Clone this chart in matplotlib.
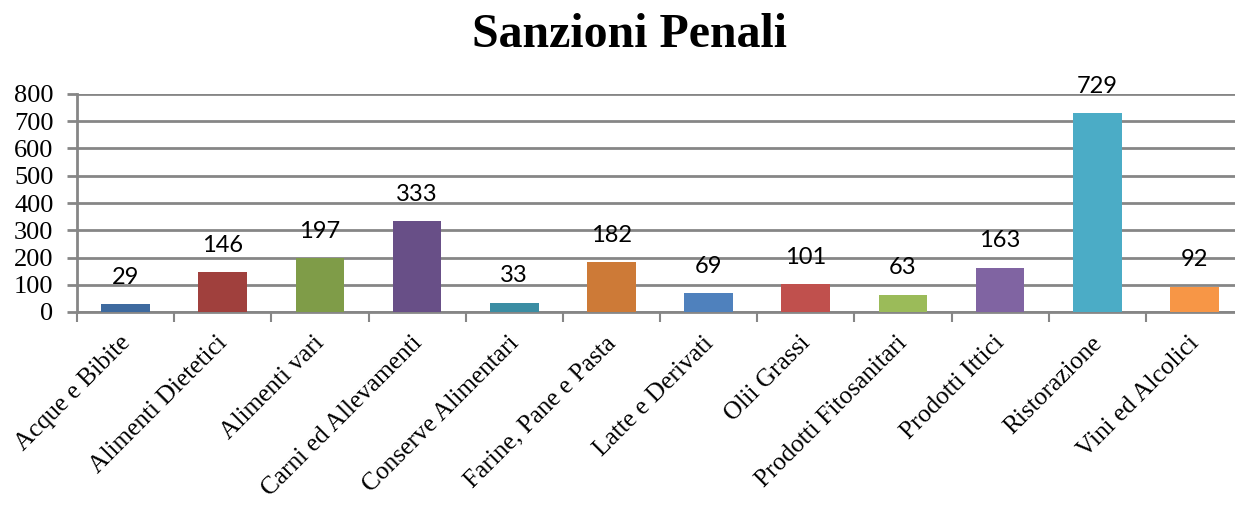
import numpy as np
import matplotlib
matplotlib.use('Agg')
import matplotlib.pyplot as plt

# Dati
categorie = ['Acque e Bibite', 'Alimenti Dietetici', 'Alimenti vari',
             'Carni ed Allevamenti', 'Conserve Alimentari',
             'Farine, Pane e Pasta', 'Latte e Derivati', 'Olii Grassi',
             'Prodotti Fitosanitari', 'Prodotti Ittici', 'Ristorazione',
             'Vini ed Alcolici']
valori = [29, 146, 197, 333, 33, 182, 69, 101, 63, 163, 729, 92]
colori = ['#3E6A9F', '#A0403D', '#7F9C48', '#684F87', '#3B8DA3', '#CD7A37',
          '#4F81BD', '#C0504D', '#9BBB59', '#8064A2', '#4BACC6', '#F79646']
tick_y = [0, 100, 200, 300, 400, 500, 600, 700, 800]

GRID = '#868686'
SERIF = 'Liberation Serif'

fig = plt.figure(figsize=(12.35, 5.05), dpi=100)
ax = fig.add_axes([77 / 1235, 1 - 312 / 505, 1166 / 1235, 218 / 505])

x = np.arange(len(categorie))
ax.bar(x, valori, width=0.5, color=colori, zorder=3)

ax.set_xlim(-0.5, len(categorie) - 0.5)
ax.set_ylim(0, 800)
ax.set_yticks(tick_y)
ax.set_yticklabels([str(v) for v in tick_y], fontfamily=SERIF, fontsize=19)
ax.yaxis.grid(True, color=GRID, linewidth=2, zorder=0)

# tick sul bordo delle categorie
ax.set_xticks(np.arange(len(categorie) + 1) - 0.5)
ax.set_xticklabels([])
ax.tick_params(axis='x', length=7, width=1.5, color=GRID, direction='out')
ax.tick_params(axis='y', length=7, width=2, color=GRID, direction='out', pad=10)

for s in ['top', 'right']:
    ax.spines[s].set_visible(False)
for s in ['left', 'bottom']:
    ax.spines[s].set_color(GRID)
    ax.spines[s].set_linewidth(2)

# etichette categorie ruotate
for i, nome in enumerate(categorie):
    ax.annotate(nome, xy=(i, 0), xycoords=('data', 'axes fraction'),
                xytext=(1, -20), textcoords='offset points',
                rotation=45, rotation_mode='anchor', ha='right', va='center',
                fontfamily=SERIF, fontsize=18.3)

# etichette dei valori
for i, v in enumerate(valori):
    ax.annotate(str(v), xy=(i, v), xytext=(0, 19.5), textcoords='offset points',
                ha='center', va='center', fontfamily='Lato', fontsize=17)

fig.text(629 / 1235, 1 - 35 / 505, 'Sanzioni Penali', ha='center', va='center',
         fontfamily=SERIF, fontweight='bold', fontsize=34.5)

fig.savefig('out.png', dpi=100)
